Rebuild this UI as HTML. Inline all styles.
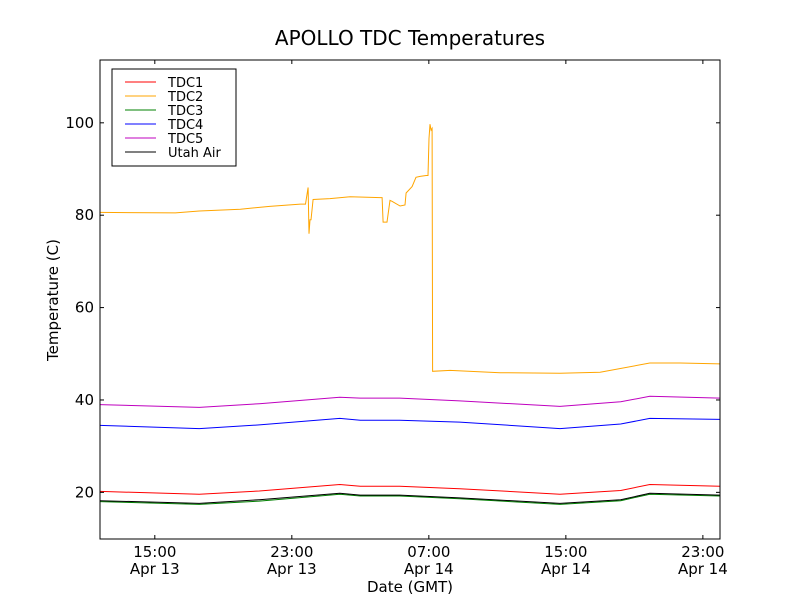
<!DOCTYPE html>
<html><head><meta charset="utf-8"><style>
body{margin:0;background:#fff;font-family:"DejaVu Sans","Liberation Sans",sans-serif}
svg{display:block}
</style></head><body>
<svg id="chart" width="800" height="600">
<rect width="800" height="600" fill="#fff"/>
<text x="410" y="45" font-size="20" text-anchor="middle">APOLLO TDC Temperatures</text>
<text x="410" y="592" font-size="15" text-anchor="middle">Date (GMT)</text>
<text transform="translate(58,300) rotate(-90)" font-size="15" text-anchor="middle">Temperature (C)</text>
<g id="series"></g>
<g id="axes"></g>
<rect x="100" y="60" width="620" height="479" fill="none" stroke="#000"/>
<g id="legend"></g>
</svg>
<script>
const xTicks=[15,23,31,39,47];
const xTickTimes=["15:00","23:00","07:00","15:00","23:00"];
const xTickDates=["Apr 13","Apr 13","Apr 14","Apr 14","Apr 14"];
const yTicks=[20,40,60,80,100];
const tdc2Hours=[11.8,16.2,17.6,20,21.7,23.5,23.8,23.95,24.0,24.06,24.12,24.24,25.23,26.4,28.15,28.27,28.33,28.56,28.73,28.85,29.32,29.61,29.67,30.02,30.25,30.49,30.84,30.95,31.01,31.07,31.13,31.19,31.22,32.24,35.16,38.66,41.0,43.9,45.67,48];
const tdc2Temps=[80.6,80.5,80.9,81.3,81.9,82.4,82.4,86,76,79,79,83.4,83.6,84,83.8,83.8,78.5,78.5,83.2,83,82,82.2,84.8,86.2,88.2,88.4,88.6,88.6,96.6,99.7,98.4,98.8,46.2,46.4,45.9,45.8,46,48,48,47.8];
const smoothHours=[11.8,17.6,21.1,25.8,27,29.3,32.8,38.66,42.2,43.9,48];
const tdc1Temps=[20.2,19.6,20.3,21.7,21.3,21.3,20.8,19.6,20.4,21.7,21.3];
const tdc3Temps=[18,17.4,18.1,19.6,19.2,19.2,18.6,17.4,18.2,19.6,19.2];
const tdc4Temps=[34.5,33.8,34.6,36,35.6,35.6,35.2,33.8,34.8,36,35.8];
const tdc5Temps=[39,38.4,39.2,40.6,40.4,40.4,39.8,38.6,39.6,40.8,40.4];
const airTemps=[18.2,17.6,18.4,19.8,19.4,19.4,18.8,17.6,18.4,19.8,19.4];
const X0=11.8,X1=48,Y0=9.9,Y1=113.6;
function xs(h){return 100+(h-X0)/(X1-X0)*620;}
function ys(t){return 539-(t-Y0)/(Y1-Y0)*479;}
const NS="http://www.w3.org/2000/svg";
const series=document.getElementById('series'),axes=document.getElementById('axes'),legend=document.getElementById('legend');
function mk(tag,attrs,parent){const e=document.createElementNS(NS,tag);for(const k in attrs)e.setAttribute(k,attrs[k]);parent.appendChild(e);return e;}
function line(hours,temps,color,name){
  const p=mk('polyline',{points:hours.map((h,i)=>xs(h).toFixed(1)+','+ys(temps[i]).toFixed(1)).join(' '),fill:'none',stroke:color,'stroke-width':1},series);
  
  
}
line(smoothHours,tdc5Temps,'#bf00bf','tdc5-line');
line(smoothHours,tdc4Temps,'#0000ff','tdc4-line');
line(smoothHours,tdc1Temps,'#ff0000','tdc1-line');
line(smoothHours,tdc3Temps,'#008000','tdc3-line');
line(smoothHours,airTemps,'#000000','utah-air-line');
line(tdc2Hours,tdc2Temps,'#ffa500','tdc2-line');
xTicks.forEach((h,i)=>{
  const x=xs(h);
  mk('line',{x1:x,x2:x,y1:539,y2:535,stroke:'#000'},axes);
  mk('line',{x1:x,x2:x,y1:60,y2:64,stroke:'#000'},axes);
  const t=mk('text',{x:x,y:557,'font-size':15,'text-anchor':'middle'},axes);t.textContent=xTickTimes[i];
  
  
  const d=mk('text',{x:x,y:574,'font-size':15,'text-anchor':'middle'},axes);d.textContent=xTickDates[i];
  
  
});
yTicks.forEach(v=>{
  const y=ys(v);
  mk('line',{x1:100,x2:104,y1:y,y2:y,stroke:'#000'},axes);
  mk('line',{x1:720,x2:716,y1:y,y2:y,stroke:'#000'},axes);
  const t=mk('text',{x:94,y:y+5,'font-size':15,'text-anchor':'end'},axes);t.textContent=v;
  
  
});
mk('rect',{x:112,y:69,width:124,height:97,fill:'#fff',stroke:'#000'},legend);
const legNames=["TDC1","TDC2","TDC3","TDC4","TDC5","Utah Air"];
const legColors=['#ff0000','#ffa500','#008000','#0000ff','#bf00bf','#000000'];
legNames.forEach((n,i)=>{
  const y=82+i*14;
  const g=mk('g',{},legend);
  
  
  mk('line',{x1:125,x2:156,y1:y,y2:y,stroke:legColors[i]},g);
  const t=mk('text',{x:168,y:y+5,'font-size':13},g);t.textContent=n;
});
</script>
</body></html>
